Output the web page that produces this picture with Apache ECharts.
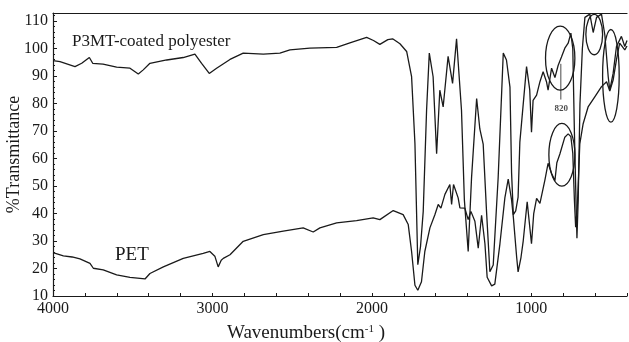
<!DOCTYPE html>
<html>
<head>
<meta charset="utf-8">
<script src="https://cdn.jsdelivr.net/npm/echarts@6/dist/echarts.min.js"></script>
<style>
  html, body { margin: 0; padding: 0; background: #fff; }
  #chart { width: 629px; height: 342px; }
</style>
</head>
<body>
<div id="chart"></div>
<script>
// [wavenumber, %T]
var p3mtData = [
  [4000,95.7],[3956,95.3],[3862,93.5],[3820,94.7],[3772,96.8],[3751,94.7],[3686,94.4],[3601,93.3],
  [3517,92.9],[3465,90.8],[3434,92.3],[3392,94.7],[3287,95.9],[3183,96.8],[3110,98.0],[3068,94.7],
  [3020,91.0],[2974,92.9],[2890,96.1],[2807,98.4],[2681,98.0],[2577,98.4],[2514,99.6],[2389,100.2],
  [2221,100.5],[2138,102.1],[2033,104.1],[1990,103.0],[1950,101.6],[1900,103.3],[1870,103.6],[1824,101.8],
  [1782,99.0],[1751,89.8],[1730,65.5],[1712,21.4],[1695,28],[1678,40.8],[1657,77.6],[1640,98.4],
  [1616,89.8],[1594,61.8],[1574,84.9],[1553,78.8],[1522,97.2],[1494,87.4],[1469,103.6],[1438,77.6],
  [1420,45],[1396,26.2],[1375,53],[1343,81.9],[1323,70.8],[1302,65.3],[1281,40.8],[1260,18.8],
  [1239,21.3],[1208,53.1],[1176,98.4],[1156,95.9],[1134,86],[1124,55],[1113,39.6],[1098,41],
  [1083,46],[1072,66],[1030,93.5],[1010,85],[999,69.6],[989,81.2],[967,83.1],[946,88],
  [926,91.6],[905,88],[895,84.9],[873,92.9],[852,89.5],[832,93.9],[811,97.0],[790,100.2],
  [769,102],[752,105.7],[740,100],[730,70],[720,45],[714,31],[706,45],[695,80],
  [680,100],[664,111.4],[633,112.6],[612,105.9],[591,111.4],[560,112.6],[539,105],[518,89.9],
  [508,84.9],[487,91],[466,100.8],[435,104.5],[414,100.8],[400,103]
];
var petData = [
  [4000,25.8],[3935,24.6],[3880,24.2],[3831,23.5],[3768,21.9],[3747,20.1],[3685,19.5],[3601,17.7],
  [3517,16.8],[3423,16.2],[3392,18.2],[3308,20.6],[3183,23.7],[3058,25.5],[3016,26.2],[2985,24.5],
  [2964,20.6],[2945,23.0],[2932,23.7],[2890,25.0],[2807,29.9],[2681,32.3],[2556,33.6],[2431,34.8],
  [2368,33.3],[2326,34.8],[2221,36.6],[2096,37.4],[1992,38.4],[1950,37.8],[1866,41.1],[1804,39.6],
  [1772,36.0],[1751,26.2],[1730,13.9],[1712,12.1],[1689,15.2],[1668,26.2],[1636,34.8],[1605,39.6],
  [1584,43.3],[1567,42.0],[1542,47.0],[1511,50.6],[1500,43.3],[1488,50.6],[1459,45.7],[1448,42.1],
  [1417,42],[1396,37.8],[1379,40.8],[1354,37.2],[1333,27.4],[1312,39.4],[1291,29],[1277,16.8],
  [1249,13.7],[1229,14.3],[1197,29],[1166,45.7],[1145,52.5],[1124,45],[1113,38.8],[1092,24.1],
  [1083,18.8],[1065,24],[1051,30],[1026,44.3],[999,29.0],[985,40],[967,45.5],[946,43.7],
  [915,52.2],[895,58.3],[873,54.6],[852,52],[840,58.5],[821,61.7],[790,67.8],[769,69],
  [752,68],[740,62],[730,45],[722,35],[712,42],[705,52],[696,65.4],[675,72.7],
  [644,78.8],[602,82.5],[560,86.2],[528,88],[508,84.6],[487,88.6],[466,96],[446,102],
  [414,99.6],[400,101]
];

// annotation ovals: [wn from, wn to, %T low, %T high]
var ovals = [
  [911, 727, 84.9, 108.2],
  [890, 727, 50.0, 72.8],
  [658, 553, 97.8, 112.5],
  [553, 449, 73.3, 107.0]
];
var pointer820 = [[815, 94.5], [815, 81.5]];
var label820 = [[812, 78.3]];

var xLabels = [1000, 2000, 3000, 4000];
var xTicks = [];
for (var w = 400; w <= 4000; w += 200) xTicks.push(w);
var yLabels = [10, 20, 30, 40, 50, 60, 70, 80, 90, 100, 110];

var serif = 'Liberation Serif';
var ink = '#1a1a1a';
var plain = function (v) { return String(v); };

var chart = echarts.init(document.getElementById('chart'));
chart.setOption({
  animation: false,
  grid: { left: 53, right: 2, top: 13, bottom: 46, outerBoundsMode: 'none', containLabel: false },
  xAxis: [
    {
      type: 'value', inverse: true, min: 400, max: 4000,
      axisLine: { lineStyle: { color: ink, width: 1.2 } },
      axisTick: { inside: true, length: 3, customValues: xTicks, lineStyle: { color: ink } },
      axisLabel: { customValues: xLabels, formatter: plain, color: ink, fontFamily: serif, fontSize: 16, margin: 5 },
      splitLine: { show: false },
      name: 'Wavenumbers(cm{sup|-1} )',
      nameLocation: 'middle', nameGap: 28,
      nameTextStyle: {
        color: ink, fontFamily: serif, fontSize: 19, padding: [0, 68, 0, 0],
        rich: { sup: { fontFamily: serif, fontSize: 11, color: ink, verticalAlign: 'top', padding: [0, 0, 8, 0] } }
      }
    },
    {
      type: 'value', position: 'top', inverse: true, min: 400, max: 4000,
      axisLine: { lineStyle: { color: ink, width: 1.2 } },
      axisTick: { show: false }, axisLabel: { show: false }, splitLine: { show: false }
    }
  ],
  yAxis: {
    type: 'value', min: 10, max: 113, interval: 10,
    axisLine: { show: true, lineStyle: { color: ink, width: 1.2 } },
    axisTick: { show: true, inside: true, length: 4, lineStyle: { color: ink } },
    minorTick: { show: true, splitNumber: 5, length: 2, lineStyle: { color: ink } },
    axisLabel: { customValues: yLabels, formatter: plain, color: ink, fontFamily: serif, fontSize: 16, margin: 5 },
    splitLine: { show: false },
    name: '%Transmittance', nameLocation: 'middle', nameGap: 30, nameMoveOverlap: false,
    nameTextStyle: { color: ink, fontFamily: serif, fontSize: 18 }
  },
  graphic: [
    { type: 'text', left: 72, top: 33, style: { text: 'P3MT-coated polyester', font: '17px "Liberation Serif"', fill: ink } },
    { type: 'text', left: 115, top: 246, style: { text: 'PET', font: '19px "Liberation Serif"', fill: ink } }
  ],
  series: [
    {
      name: 'P3MT-coated polyester', type: 'line', data: p3mtData,
      symbol: 'none', smooth: false,
      lineStyle: { color: ink, width: 1.3 }
    },
    {
      name: 'PET', type: 'line', data: petData,
      symbol: 'none', smooth: false,
      lineStyle: { color: ink, width: 1.3 }
    },
    {
      type: 'custom', data: ovals, clip: false,
      encode: { x: [0, 1], y: [2, 3] },
      renderItem: function (params, api) {
        var a = api.coord([api.value(0), api.value(3)]);
        var b = api.coord([api.value(1), api.value(2)]);
        return {
          type: 'ellipse',
          shape: {
            cx: (a[0] + b[0]) / 2, cy: (a[1] + b[1]) / 2,
            rx: Math.abs(b[0] - a[0]) / 2, ry: Math.abs(b[1] - a[1]) / 2
          },
          style: { fill: 'none', stroke: ink, lineWidth: 1.3 }
        };
      }
    },
    {
      type: 'line', data: pointer820, symbol: 'none',
      lineStyle: { color: ink, width: 0.8 }
    },
    {
      type: 'scatter', data: label820, symbolSize: 0,
      label: { show: true, position: 'inside', formatter: '820', color: ink, fontFamily: serif, fontSize: 9, fontWeight: 'bold' }
    }
  ]
});
</script>
</body>
</html>
